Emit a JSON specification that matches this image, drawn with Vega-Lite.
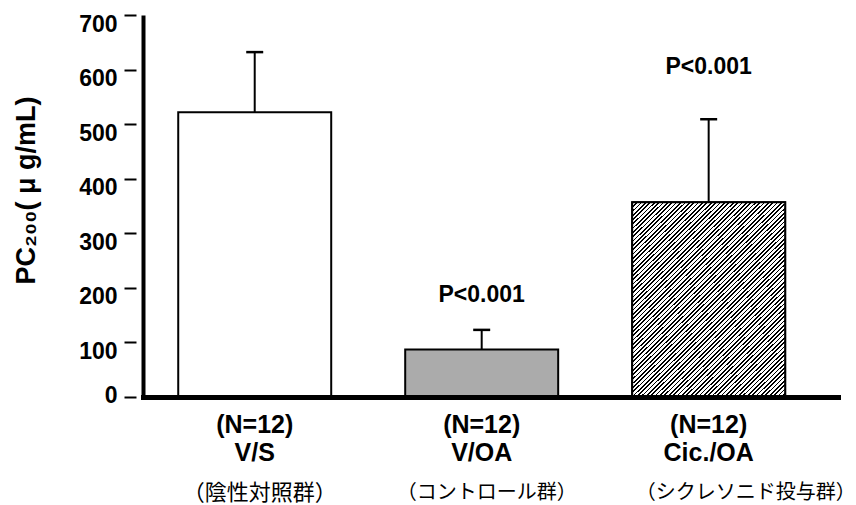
{
  "$schema": "https://vega.github.io/schema/vega-lite/v6.json",
  "width": 695,
  "height": 382,
  "autosize": {"type": "none"},
  "padding": {"left": 143, "top": 15, "right": 18, "bottom": 108},
  "background": "white",
  "config": {"view": {"stroke": null}, "font": "Liberation Sans"},
  "data": {
    "values": [
      {"lab": "(N=12)|V/S", "jp": "（陰性対照群）", "mean": 522, "err": 632, "p": null, "py": null},
      {"lab": "(N=12)|V/OA", "jp": "（コントロール群）", "mean": 87, "err": 123, "p": "P<0.001", "py": 187},
      {"lab": "(N=12)|Cic./OA", "jp": "（シクレソニド投与群）", "mean": 357, "err": 509, "p": "P<0.001", "py": 605}
    ]
  },
  "resolve": {"scale": {"x": "independent"}, "axis": {"x": "independent", "y": "independent"}},
  "layer": [
    {
      "encoding": {
        "x": {
          "field": "lab", "type": "nominal", "sort": null,
          "scale": {"paddingInner": 0.326, "paddingOuter": 0.194, "align": 0.4},
          "axis": {
            "orient": "bottom", "title": null, "labelAngle": 0, "ticks": false,
            "domain": true, "domainColor": "#000", "domainWidth": 5, "domainCap": "square",
            "labelExpr": "split(datum.label, '|')",
            "labelFont": "Liberation Sans", "labelFontSize": 25, "labelFontWeight": "bold",
            "labelColor": "#000", "labelPadding": 15, "labelLineHeight": 28, "labelOverlap": false, "labelLimit": 0,
            "zindex": 1
          }
        },
        "y": {
          "field": "mean", "type": "quantitative",
          "scale": {"domain": [0, 700], "nice": false, "zero": true},
          "axis": {
            "orient": "left", "values": [0, 100, 200, 300, 400, 500, 600, 700],
            "domain": false, "offset": 7, "tickSize": 12, "tickWidth": 2, "tickColor": "#000",
            "labelFont": "Liberation Sans", "labelFontSize": 23, "labelFontWeight": "bold",
            "labelColor": "#000", "labelPadding": 7, "grid": false,
            "labelBaseline": {"condition": {"test": "datum.value === 0", "value": "middle"}, "value": "top"},
            "labelOffset": -2,
            "title": "PC₂₀₀( μ g/mL)", "titleFont": "Liberation Sans", "titleFontSize": 27,
            "titleFontWeight": "bold", "titleColor": "#000", "titlePadding": 38, "titleY": 175
          }
        }
      },
      "layer": [
        {
          "mark": {"type": "rule", "color": "#000", "strokeWidth": 2},
          "encoding": {"y": {"field": "mean", "type": "quantitative"}, "y2": {"field": "err"}}
        },
        {
          "mark": {"type": "tick", "color": "#000", "size": 17, "thickness": 2.5, "orient": "horizontal", "opacity": 1},
          "encoding": {"y": {"field": "err", "type": "quantitative"}}
        },
        {
          "mark": {"type": "bar", "stroke": "#000", "strokeWidth": 2, "opacity": 1},
          "encoding": {
            "fill": {"field": "lab", "type": "nominal", "sort": null, "scale": {"range": ["#ffffff", "#ababab", "#ffffff"]}, "legend": null}
          }
        },
        {
          "transform": [{"filter": {"field": "lab", "equal": "(N=12)|Cic./OA"}}],
          "mark": {
            "type": "bar", "stroke": "#000", "strokeWidth": 2, "opacity": 1,
            "fill": {
              "gradient": "linear", "x1": 0, "y1": 0, "x2": 0.855, "y2": 1.11,
              "stops": [
{"offset":0,"color":"#000"},{"offset":0.005,"color":"#000"},{"offset":0.005,"color":"#fff"},{"offset":0.0125,"color":"#fff"},
{"offset":0.0125,"color":"#000"},{"offset":0.0175,"color":"#000"},{"offset":0.0175,"color":"#fff"},{"offset":0.025,"color":"#fff"},
{"offset":0.025,"color":"#000"},{"offset":0.03,"color":"#000"},{"offset":0.03,"color":"#fff"},{"offset":0.0375,"color":"#fff"},
{"offset":0.0375,"color":"#000"},{"offset":0.0425,"color":"#000"},{"offset":0.0425,"color":"#fff"},{"offset":0.05,"color":"#fff"},
{"offset":0.05,"color":"#000"},{"offset":0.055,"color":"#000"},{"offset":0.055,"color":"#fff"},{"offset":0.0625,"color":"#fff"},
{"offset":0.0625,"color":"#000"},{"offset":0.0675,"color":"#000"},{"offset":0.0675,"color":"#fff"},{"offset":0.075,"color":"#fff"},
{"offset":0.075,"color":"#000"},{"offset":0.08,"color":"#000"},{"offset":0.08,"color":"#fff"},{"offset":0.0875,"color":"#fff"},
{"offset":0.0875,"color":"#000"},{"offset":0.0925,"color":"#000"},{"offset":0.0925,"color":"#fff"},{"offset":0.1,"color":"#fff"},
{"offset":0.1,"color":"#000"},{"offset":0.105,"color":"#000"},{"offset":0.105,"color":"#fff"},{"offset":0.1125,"color":"#fff"},
{"offset":0.1125,"color":"#000"},{"offset":0.1175,"color":"#000"},{"offset":0.1175,"color":"#fff"},{"offset":0.125,"color":"#fff"},
{"offset":0.125,"color":"#000"},{"offset":0.13,"color":"#000"},{"offset":0.13,"color":"#fff"},{"offset":0.1375,"color":"#fff"},
{"offset":0.1375,"color":"#000"},{"offset":0.1425,"color":"#000"},{"offset":0.1425,"color":"#fff"},{"offset":0.15,"color":"#fff"},
{"offset":0.15,"color":"#000"},{"offset":0.155,"color":"#000"},{"offset":0.155,"color":"#fff"},{"offset":0.1625,"color":"#fff"},
{"offset":0.1625,"color":"#000"},{"offset":0.1675,"color":"#000"},{"offset":0.1675,"color":"#fff"},{"offset":0.175,"color":"#fff"},
{"offset":0.175,"color":"#000"},{"offset":0.18,"color":"#000"},{"offset":0.18,"color":"#fff"},{"offset":0.1875,"color":"#fff"},
{"offset":0.1875,"color":"#000"},{"offset":0.1925,"color":"#000"},{"offset":0.1925,"color":"#fff"},{"offset":0.2,"color":"#fff"},
{"offset":0.2,"color":"#000"},{"offset":0.205,"color":"#000"},{"offset":0.205,"color":"#fff"},{"offset":0.2125,"color":"#fff"},
{"offset":0.2125,"color":"#000"},{"offset":0.2175,"color":"#000"},{"offset":0.2175,"color":"#fff"},{"offset":0.225,"color":"#fff"},
{"offset":0.225,"color":"#000"},{"offset":0.23,"color":"#000"},{"offset":0.23,"color":"#fff"},{"offset":0.2375,"color":"#fff"},
{"offset":0.2375,"color":"#000"},{"offset":0.2425,"color":"#000"},{"offset":0.2425,"color":"#fff"},{"offset":0.25,"color":"#fff"},
{"offset":0.25,"color":"#000"},{"offset":0.255,"color":"#000"},{"offset":0.255,"color":"#fff"},{"offset":0.2625,"color":"#fff"},
{"offset":0.2625,"color":"#000"},{"offset":0.2675,"color":"#000"},{"offset":0.2675,"color":"#fff"},{"offset":0.275,"color":"#fff"},
{"offset":0.275,"color":"#000"},{"offset":0.28,"color":"#000"},{"offset":0.28,"color":"#fff"},{"offset":0.2875,"color":"#fff"},
{"offset":0.2875,"color":"#000"},{"offset":0.2925,"color":"#000"},{"offset":0.2925,"color":"#fff"},{"offset":0.3,"color":"#fff"},
{"offset":0.3,"color":"#000"},{"offset":0.305,"color":"#000"},{"offset":0.305,"color":"#fff"},{"offset":0.3125,"color":"#fff"},
{"offset":0.3125,"color":"#000"},{"offset":0.3175,"color":"#000"},{"offset":0.3175,"color":"#fff"},{"offset":0.325,"color":"#fff"},
{"offset":0.325,"color":"#000"},{"offset":0.33,"color":"#000"},{"offset":0.33,"color":"#fff"},{"offset":0.3375,"color":"#fff"},
{"offset":0.3375,"color":"#000"},{"offset":0.3425,"color":"#000"},{"offset":0.3425,"color":"#fff"},{"offset":0.35,"color":"#fff"},
{"offset":0.35,"color":"#000"},{"offset":0.355,"color":"#000"},{"offset":0.355,"color":"#fff"},{"offset":0.3625,"color":"#fff"},
{"offset":0.3625,"color":"#000"},{"offset":0.3675,"color":"#000"},{"offset":0.3675,"color":"#fff"},{"offset":0.375,"color":"#fff"},
{"offset":0.375,"color":"#000"},{"offset":0.38,"color":"#000"},{"offset":0.38,"color":"#fff"},{"offset":0.3875,"color":"#fff"},
{"offset":0.3875,"color":"#000"},{"offset":0.3925,"color":"#000"},{"offset":0.3925,"color":"#fff"},{"offset":0.4,"color":"#fff"},
{"offset":0.4,"color":"#000"},{"offset":0.405,"color":"#000"},{"offset":0.405,"color":"#fff"},{"offset":0.4125,"color":"#fff"},
{"offset":0.4125,"color":"#000"},{"offset":0.4175,"color":"#000"},{"offset":0.4175,"color":"#fff"},{"offset":0.425,"color":"#fff"},
{"offset":0.425,"color":"#000"},{"offset":0.43,"color":"#000"},{"offset":0.43,"color":"#fff"},{"offset":0.4375,"color":"#fff"},
{"offset":0.4375,"color":"#000"},{"offset":0.4425,"color":"#000"},{"offset":0.4425,"color":"#fff"},{"offset":0.45,"color":"#fff"},
{"offset":0.45,"color":"#000"},{"offset":0.455,"color":"#000"},{"offset":0.455,"color":"#fff"},{"offset":0.4625,"color":"#fff"},
{"offset":0.4625,"color":"#000"},{"offset":0.4675,"color":"#000"},{"offset":0.4675,"color":"#fff"},{"offset":0.475,"color":"#fff"},
{"offset":0.475,"color":"#000"},{"offset":0.48,"color":"#000"},{"offset":0.48,"color":"#fff"},{"offset":0.4875,"color":"#fff"},
{"offset":0.4875,"color":"#000"},{"offset":0.4925,"color":"#000"},{"offset":0.4925,"color":"#fff"},{"offset":0.5,"color":"#fff"},
{"offset":0.5,"color":"#000"},{"offset":0.505,"color":"#000"},{"offset":0.505,"color":"#fff"},{"offset":0.5125,"color":"#fff"},
{"offset":0.5125,"color":"#000"},{"offset":0.5175,"color":"#000"},{"offset":0.5175,"color":"#fff"},{"offset":0.525,"color":"#fff"},
{"offset":0.525,"color":"#000"},{"offset":0.53,"color":"#000"},{"offset":0.53,"color":"#fff"},{"offset":0.5375,"color":"#fff"},
{"offset":0.5375,"color":"#000"},{"offset":0.5425,"color":"#000"},{"offset":0.5425,"color":"#fff"},{"offset":0.55,"color":"#fff"},
{"offset":0.55,"color":"#000"},{"offset":0.555,"color":"#000"},{"offset":0.555,"color":"#fff"},{"offset":0.5625,"color":"#fff"},
{"offset":0.5625,"color":"#000"},{"offset":0.5675,"color":"#000"},{"offset":0.5675,"color":"#fff"},{"offset":0.575,"color":"#fff"},
{"offset":0.575,"color":"#000"},{"offset":0.58,"color":"#000"},{"offset":0.58,"color":"#fff"},{"offset":0.5875,"color":"#fff"},
{"offset":0.5875,"color":"#000"},{"offset":0.5925,"color":"#000"},{"offset":0.5925,"color":"#fff"},{"offset":0.6,"color":"#fff"},
{"offset":0.6,"color":"#000"},{"offset":0.605,"color":"#000"},{"offset":0.605,"color":"#fff"},{"offset":0.6125,"color":"#fff"},
{"offset":0.6125,"color":"#000"},{"offset":0.6175,"color":"#000"},{"offset":0.6175,"color":"#fff"},{"offset":0.625,"color":"#fff"},
{"offset":0.625,"color":"#000"},{"offset":0.63,"color":"#000"},{"offset":0.63,"color":"#fff"},{"offset":0.6375,"color":"#fff"},
{"offset":0.6375,"color":"#000"},{"offset":0.6425,"color":"#000"},{"offset":0.6425,"color":"#fff"},{"offset":0.65,"color":"#fff"},
{"offset":0.65,"color":"#000"},{"offset":0.655,"color":"#000"},{"offset":0.655,"color":"#fff"},{"offset":0.6625,"color":"#fff"},
{"offset":0.6625,"color":"#000"},{"offset":0.6675,"color":"#000"},{"offset":0.6675,"color":"#fff"},{"offset":0.675,"color":"#fff"},
{"offset":0.675,"color":"#000"},{"offset":0.68,"color":"#000"},{"offset":0.68,"color":"#fff"},{"offset":0.6875,"color":"#fff"},
{"offset":0.6875,"color":"#000"},{"offset":0.6925,"color":"#000"},{"offset":0.6925,"color":"#fff"},{"offset":0.7,"color":"#fff"},
{"offset":0.7,"color":"#000"},{"offset":0.705,"color":"#000"},{"offset":0.705,"color":"#fff"},{"offset":0.7125,"color":"#fff"},
{"offset":0.7125,"color":"#000"},{"offset":0.7175,"color":"#000"},{"offset":0.7175,"color":"#fff"},{"offset":0.725,"color":"#fff"},
{"offset":0.725,"color":"#000"},{"offset":0.73,"color":"#000"},{"offset":0.73,"color":"#fff"},{"offset":0.7375,"color":"#fff"},
{"offset":0.7375,"color":"#000"},{"offset":0.7425,"color":"#000"},{"offset":0.7425,"color":"#fff"},{"offset":0.75,"color":"#fff"},
{"offset":0.75,"color":"#000"},{"offset":0.755,"color":"#000"},{"offset":0.755,"color":"#fff"},{"offset":0.7625,"color":"#fff"},
{"offset":0.7625,"color":"#000"},{"offset":0.7675,"color":"#000"},{"offset":0.7675,"color":"#fff"},{"offset":0.775,"color":"#fff"},
{"offset":0.775,"color":"#000"},{"offset":0.78,"color":"#000"},{"offset":0.78,"color":"#fff"},{"offset":0.7875,"color":"#fff"},
{"offset":0.7875,"color":"#000"},{"offset":0.7925,"color":"#000"},{"offset":0.7925,"color":"#fff"},{"offset":0.8,"color":"#fff"},
{"offset":0.8,"color":"#000"},{"offset":0.805,"color":"#000"},{"offset":0.805,"color":"#fff"},{"offset":0.8125,"color":"#fff"},
{"offset":0.8125,"color":"#000"},{"offset":0.8175,"color":"#000"},{"offset":0.8175,"color":"#fff"},{"offset":0.825,"color":"#fff"},
{"offset":0.825,"color":"#000"},{"offset":0.83,"color":"#000"},{"offset":0.83,"color":"#fff"},{"offset":0.8375,"color":"#fff"},
{"offset":0.8375,"color":"#000"},{"offset":0.8425,"color":"#000"},{"offset":0.8425,"color":"#fff"},{"offset":0.85,"color":"#fff"},
{"offset":0.85,"color":"#000"},{"offset":0.855,"color":"#000"},{"offset":0.855,"color":"#fff"},{"offset":0.8625,"color":"#fff"},
{"offset":0.8625,"color":"#000"},{"offset":0.8675,"color":"#000"},{"offset":0.8675,"color":"#fff"},{"offset":0.875,"color":"#fff"},
{"offset":0.875,"color":"#000"},{"offset":0.88,"color":"#000"},{"offset":0.88,"color":"#fff"},{"offset":0.8875,"color":"#fff"},
{"offset":0.8875,"color":"#000"},{"offset":0.8925,"color":"#000"},{"offset":0.8925,"color":"#fff"},{"offset":0.9,"color":"#fff"},
{"offset":0.9,"color":"#000"},{"offset":0.905,"color":"#000"},{"offset":0.905,"color":"#fff"},{"offset":0.9125,"color":"#fff"},
{"offset":0.9125,"color":"#000"},{"offset":0.9175,"color":"#000"},{"offset":0.9175,"color":"#fff"},{"offset":0.925,"color":"#fff"},
{"offset":0.925,"color":"#000"},{"offset":0.93,"color":"#000"},{"offset":0.93,"color":"#fff"},{"offset":0.9375,"color":"#fff"},
{"offset":0.9375,"color":"#000"},{"offset":0.9425,"color":"#000"},{"offset":0.9425,"color":"#fff"},{"offset":0.95,"color":"#fff"},
{"offset":0.95,"color":"#000"},{"offset":0.955,"color":"#000"},{"offset":0.955,"color":"#fff"},{"offset":0.9625,"color":"#fff"},
{"offset":0.9625,"color":"#000"},{"offset":0.9675,"color":"#000"},{"offset":0.9675,"color":"#fff"},{"offset":0.975,"color":"#fff"},
{"offset":0.975,"color":"#000"},{"offset":0.98,"color":"#000"},{"offset":0.98,"color":"#fff"},{"offset":0.9875,"color":"#fff"},
{"offset":0.9875,"color":"#000"},{"offset":0.9925,"color":"#000"},{"offset":0.9925,"color":"#fff"},{"offset":1,"color":"#fff"}
              ]
            }
          }
        },
        {
          "transform": [{"filter": {"field": "py", "valid": true}}],
          "mark": {"type": "text", "font": "Liberation Sans", "fontSize": 23, "fontWeight": "bold", "baseline": "middle", "color": "#000"},
          "encoding": {"y": {"field": "py", "type": "quantitative"}, "text": {"field": "p", "type": "nominal"}}
        }
      ]
    },
    {
      "mark": {"type": "bar", "opacity": 0},
      "encoding": {
        "x": {
          "field": "jp", "type": "nominal", "sort": null,
          "scale": {"paddingInner": 0.326, "paddingOuter": 0.194, "align": 0.4},
          "axis": {
            "orient": "bottom", "title": null, "labelAngle": 0, "domain": false, "ticks": false,
            "labelFont": "Noto Sans CJK JP", "labelColor": "#000",
            "labelFontSize": {"condition": {"test": "datum.value === '（陰性対照群）'", "value": 22}, "value": 20},
            "labelPadding": 85, "labelOverlap": false, "labelLimit": 0,
            "labelOffset": {"condition": {"test": "datum.value === '（シクレソニド投与群）'", "value": 37}, "value": 5}
          }
        },
        "y": {
          "field": "mean", "type": "quantitative",
          "axis": {
            "orient": "left", "domain": true, "domainColor": "#000", "domainWidth": 4,
            "ticks": false, "labels": false, "title": null, "grid": false, "zindex": 1
          }
        }
      }
    }
  ]
}
